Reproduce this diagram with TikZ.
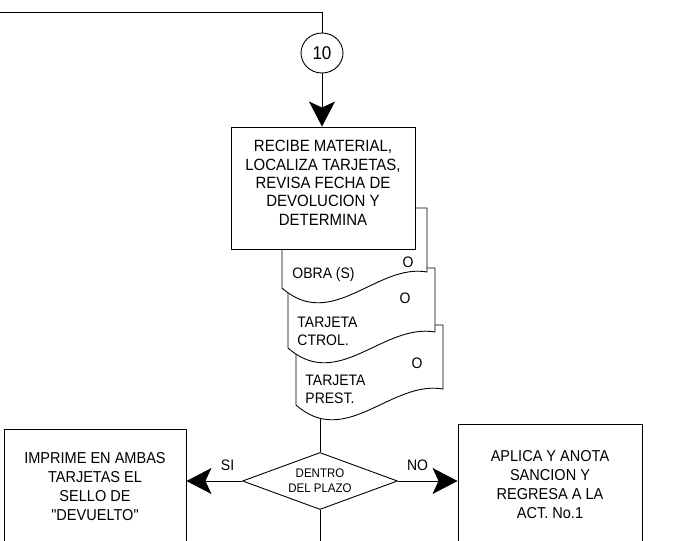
\documentclass[tikz,border=0pt]{standalone}
\usepackage{fontspec}
\setmainfont{Liberation Sans}[Ligatures=TeXOff, FakeStretch=0.92]
\usetikzlibrary{shapes.geometric,arrows.meta}

\tikzset{
  proc/.style={draw, fill=white, align=center, inner sep=0pt},
  doctext/.style={anchor=west, inner sep=0pt, align=left, font=\fontsize{15.2}{18}\selectfont},
  mark O/.style={inner sep=0pt, font=\fontsize{15.2}{18}\selectfont},
  bigtip/.style={-{Stealth[length=25pt,width=26pt,inset=6pt]}},
}

\begin{document}
\begin{tikzpicture}[x=1pt,y=-1pt,line width=0.9pt]
  \useasboundingbox (0,0) rectangle (673,541);
  % Connector 10 (comes from the left)
  \node[draw,ellipse,minimum width=42pt,minimum height=40pt,inner sep=0pt,
        font=\fontsize{18.5}{18}\selectfont] (c10) at (322,53) {10};
  \coordinate (entry) at (0,12);
  \draw (entry) -| (c10.north);
  % Documents, back to front
  \filldraw[fill=white] (296,405) -- (296,325) -- (443,325) -- (443,389)
    .. controls (391,380) and (346,449) .. (296,405) -- cycle;
  \filldraw[fill=white] (288,348) -- (288,268) -- (435,268) -- (435,332)
    .. controls (383,323) and (338,392) .. (288,348) -- cycle;
  \filldraw[fill=white] (282,288) -- (282,208) -- (427,208) -- (427,272)
    .. controls (377,263) and (332,332) .. (282,288) -- cycle;
  \node[doctext] (obra) at (292,275) {OBRA (S)};
  \node[mark O] (o1) at (408,262) {O};
  \node[doctext] (ctrol) at (297,331) {TARJETA\\CTROL.};
  \node[mark O] (o2) at (405,298) {O};
  \node[doctext] (prest) at (305,389) {TARJETA\\PREST.};
  \node[mark O] (o3) at (417,363) {O};
  % Main activity
  \node[proc, minimum width=184pt, minimum height=122pt,
        font=\fontsize{16.3}{18.3}\selectfont] (recibe) at (323,188)
    {RECIBE MATERIAL,\\LOCALIZA TARJETAS,\\REVISA FECHA DE\\DEVOLUCION Y\\DETERMINA\\[-8pt]\mbox{}};
  \draw[bigtip] (c10.south) -- (c10.south |- recibe.north);
  % Decision
  \node[draw, diamond, fill=white, aspect=2.7, minimum width=155pt, minimum height=57pt,
        inner sep=0pt, align=center, font=\fontsize{12.5}{15}\selectfont] (plazo) at (320,481)
    {DENTRO\\DEL PLAZO};
  \coordinate (doc3bot) at (320,418);
  \draw (doc3bot) -- (plazo.north);
  \coordinate (exit) at (320,541);
  \draw (plazo.south) -- (exit);
  % Outcomes
  \node[proc, minimum width=182pt, minimum height=115pt,
        font=\fontsize{15.8}{19}\selectfont] (imprime) at (95,486.5)
    {IMPRIME EN AMBAS\\TARJETAS EL\\SELLO DE\\"DEVUELTO"};
  \node[proc, minimum width=184pt, minimum height=122pt,
        font=\fontsize{15.8}{19}\selectfont] (aplica) at (550,485)
    {APLICA Y ANOTA\\SANCION Y\\REGRESA A LA\\ACT. No.1};
  \draw[bigtip] (plazo.west) -- (plazo.west -| imprime.east)
    node[pos=.26, above=7pt, font=\fontsize{15.2}{16}\selectfont] (si) {SI};
  \draw[bigtip] (plazo.east) -- (plazo.east -| aplica.west)
    node[pos=.33, above=7pt, font=\fontsize{15.2}{16}\selectfont] (no) {NO};
\end{tikzpicture}
\end{document}
